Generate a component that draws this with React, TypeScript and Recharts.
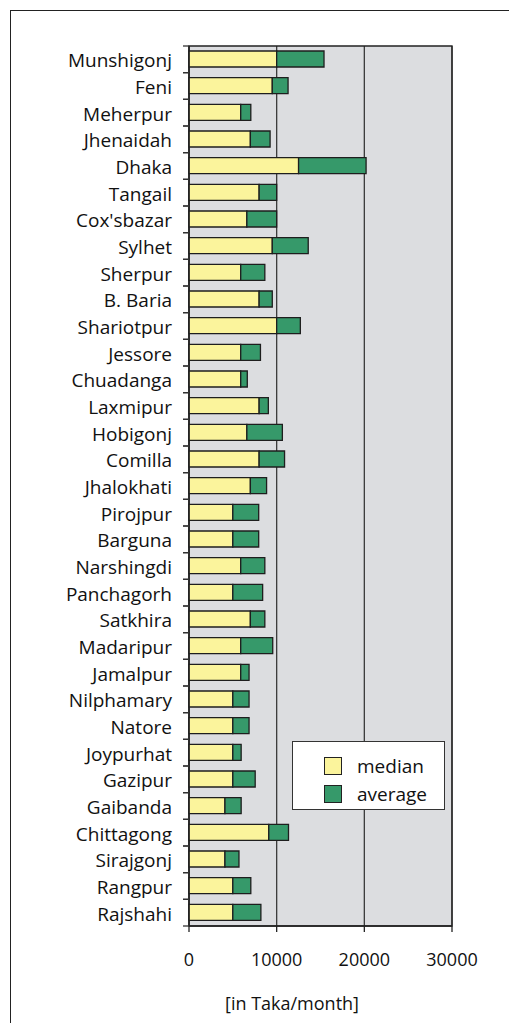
import React from 'react';
import { BarChart, Bar, XAxis, YAxis, CartesianGrid, Legend, ReferenceArea, Label } from 'recharts';

const districts = [
  'Munshigonj', 'Feni', 'Meherpur', 'Jhenaidah', 'Dhaka', 'Tangail', "Cox'sbazar", 'Sylhet',
  'Sherpur', 'B. Baria', 'Shariotpur', 'Jessore', 'Chuadanga', 'Laxmipur', 'Hobigonj', 'Comilla',
  'Jhalokhati', 'Pirojpur', 'Barguna', 'Narshingdi', 'Panchagorh', 'Satkhira', 'Madaripur', 'Jamalpur',
  'Nilphamary', 'Natore', 'Joypurhat', 'Gazipur', 'Gaibanda', 'Chittagong', 'Sirajgonj', 'Rangpur', 'Rajshahi',
];

const medianValues = [
  10000, 9500, 5900, 7000, 12500, 8000, 6600, 9500,
  5900, 8000, 10000, 5900, 5900, 8000, 6600, 8000,
  7000, 5000, 5000, 5900, 5000, 7000, 5900, 5900,
  5000, 5000, 5000, 5000, 4100, 9100, 4100, 5000, 5000,
];

const averageValues = [
  15400, 11300, 7050, 9250, 20200, 10000, 10000, 13600,
  8650, 9500, 12700, 8150, 6650, 9050, 10650, 10900,
  8850, 7950, 7950, 8650, 8400, 8650, 9550, 6850,
  6850, 6850, 5950, 7550, 5950, 11350, 5700, 7050, 8200,
];

const xTicks = [0, 10000, 20000, 30000];
const seriesNames = ['median', 'average'];
const axisTitle = '[in Taka/month]';

const data = districts.map((d, i) => ({
  district: d,
  median: medianValues[i],
  extra: averageValues[i] - medianValues[i],
}));

const FONT = '"Open Sans", "DejaVu Sans", sans-serif';
const YELLOW = '#FBF49C';
const GREEN = '#36996A';
const DARK = '#1e1e1e';
const TOP = 46;
const BOTTOM_SPACE = 97;
const HEIGHT = 1023;
const BAND = (HEIGHT - TOP - BOTTOM_SPACE) / districts.length;

const CategoryTick = (props: any) => {
  const { x, y, payload } = props;
  const lx1 = x + 11;
  const lx2 = x + 17;
  return (
    <g>
      <line x1={lx1} x2={lx2} y1={y - BAND / 2} y2={y - BAND / 2} stroke="#333" strokeWidth={1.3} />
      <line x1={lx1} x2={lx2} y1={y + BAND / 2} y2={y + BAND / 2} stroke="#333" strokeWidth={1.3} />
      <text x={x} y={y + 8} textAnchor="end" fontFamily={FONT} fontSize={19} fill="#111">
        {payload.value}
      </text>
    </g>
  );
};

const LegendBox = () => (
  <div
    style={{
      boxSizing: 'border-box',
      width: 153,
      height: 69,
      background: '#fff',
      border: '1.3px solid #333',
      fontFamily: FONT,
      fontSize: 19,
      color: '#111',
      paddingTop: 10,
      paddingLeft: 31,
    }}
  >
    {[YELLOW, GREEN].map((c, i) => (
      <div key={i} style={{ display: 'flex', alignItems: 'center', height: 28 }}>
        <span
          style={{
            display: 'inline-block',
            width: 18,
            height: 18,
            boxSizing: 'border-box',
            background: c,
            border: '1.3px solid #222',
            marginRight: 15,
          }}
        />
        <span style={{ lineHeight: '20px' }}>{seriesNames[i]}</span>
      </div>
    ))}
  </div>
);

export default function App() {
  return (
    <div style={{ position: 'absolute', left: 0, top: 0, width: 509, height: HEIGHT, background: '#fff' }}>
      <div
        style={{
          position: 'absolute',
          left: 10,
          top: 10,
          width: 499,
          height: HEIGHT - 10,
          borderTop: '1.5px solid #222',
          borderLeft: '1.5px solid #222',
          boxSizing: 'border-box',
        }}
      />
      <div style={{ position: 'absolute', left: 0, top: 0 }}>
        <BarChart
          width={509}
          height={HEIGHT}
          data={data}
          layout="vertical"
          margin={{ top: TOP, right: 57, bottom: 0, left: 0 }}
          barSize={16}
        >
          <CartesianGrid horizontal={false} vertical={true} stroke="#3a3a3a" strokeWidth={1.3} fill="#DCDDE0" fillOpacity={1} />
          <ReferenceArea x1={0} x2={30000} fill="none" stroke="#222" strokeWidth={1.3} ifOverflow="visible" />
          <XAxis
            type="number"
            domain={[0, 30000]}
            ticks={xTicks}
            interval={0}
            height={BOTTOM_SPACE}
            tickSize={6}
            tickMargin={21}
            axisLine={{ stroke: '#222', strokeWidth: 1.3 }}
            tickLine={{ stroke: '#222', strokeWidth: 1.3 }}
            tick={{ fontFamily: FONT, fontSize: 18, fill: '#111' }}
          >
            <Label
              content={(p: any) => {
                const vb = p.viewBox || { x: 189, y: 926 };
                return (
                  <text x={vb.x + 103} y={vb.y + 84} textAnchor="middle" fontFamily={FONT} fontSize={18} fill="#111">
                    {axisTitle}
                  </text>
                );
              }}
            />
          </XAxis>
          <YAxis
            type="category"
            dataKey="district"
            width={189}
            interval={0}
            tickSize={6}
            tickMargin={11}
            tickLine={false}
            axisLine={{ stroke: '#222', strokeWidth: 1.3 }}
            tick={<CategoryTick />}
          />
          <Legend
            layout="vertical"
            align="center"
            verticalAlign="middle"
            content={() => <LegendBox />}
            wrapperStyle={{ position: 'absolute', left: 292, top: 741, width: 153, height: 69 }}
          />
          <Bar dataKey="median" name={seriesNames[0]} stackId="a" fill={YELLOW} stroke={DARK} strokeWidth={1.3} isAnimationActive={false} />
          <Bar dataKey="extra" name={seriesNames[1]} stackId="a" fill={GREEN} stroke={DARK} strokeWidth={1.3} isAnimationActive={false} />
        </BarChart>
      </div>
    </div>
  );
}
